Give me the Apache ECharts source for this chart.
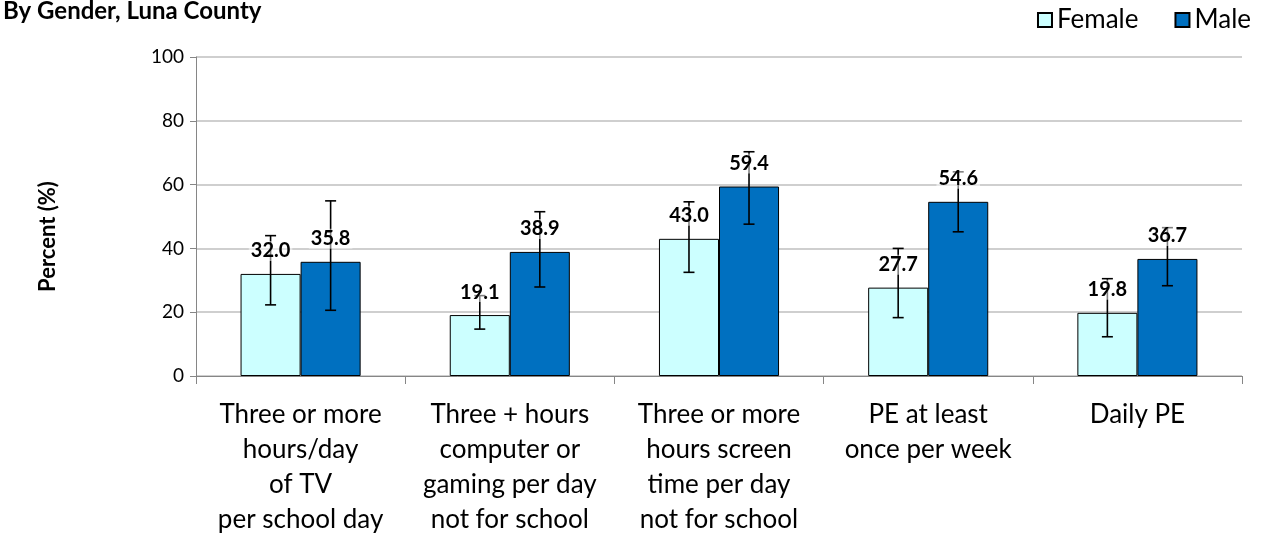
<!DOCTYPE html>
<html><head><meta charset="utf-8">
<script src="https://cdn.jsdelivr.net/npm/echarts@6/dist/echarts.min.js"></script>
<style>html,body{margin:0;padding:0;background:#fff}#c{width:1264px;height:535px}</style>
</head><body><div id="c"></div>
<script>
const categories = ["Three or more\nhours/day\nof TV\nper school day","Three + hours\ncomputer or\ngaming per day\nnot for school","Three or more\nhours screen\ntime per day\nnot for school","PE at least\nonce per week","Daily PE"];
const female = [32.0, 19.1, 43.0, 27.7, 19.8];
const male = [35.8, 38.9, 59.4, 54.6, 36.7];
const femaleLow = [22.3, 14.7, 32.5, 18.3, 12.3];
const femaleHigh = [44.0, 25.2, 54.6, 40.0, 30.5];
const maleLow = [20.6, 27.9, 47.6, 45.2, 28.3];
const maleHigh = [54.9, 51.5, 70.3, 64.0, 46.5];
const yTicks = [0, 20, 40, 60, 80, 100];

const FONT = 'Lato, "Open Sans", sans-serif';
const GAP = 0.426;
const chart = echarts.init(document.getElementById('c'));

// error bars + value labels (labels drawn over the error bars with a translucent backing)
function errSeries(values, low, high, side) {
  return {
    type: 'custom', z: 5,
    data: low.map((l, i) => [i, l, high[i], values[i]]),
    renderItem: function (params, api) {
      const i = api.value(0);
      const catW = api.size([1, 0])[0];
      const barW = catW * (1 - GAP) / 2;
      const p1 = api.coord([i, api.value(1)]);
      const p2 = api.coord([i, api.value(2)]);
      const pv = api.coord([i, api.value(3)]);
      const x = p1[0] + side * barW / 2;
      const cap = 5.5;
      const st = { stroke: '#000', lineWidth: 1.6 };
      return { type: 'group', children: [
        { type: 'line', shape: { x1: x, y1: p1[1], x2: x, y2: p2[1] }, style: st },
        { type: 'line', shape: { x1: x - cap, y1: p1[1], x2: x + cap, y2: p1[1] }, style: st },
        { type: 'line', shape: { x1: x - cap, y1: p2[1], x2: x + cap, y2: p2[1] }, style: st },
        { type: 'text', x: x, y: pv[1] - 13, z2: 10, style: {
            text: api.value(3).toFixed(1), align: 'center', verticalAlign: 'bottom',
            font: 'bold 20px ' + FONT, fill: '#000',
            backgroundColor: 'rgba(255,255,255,0.5)', padding: [0, 2] } }
      ]};
    }
  };
}

chart.setOption({
  animation: false,
  title: { text: 'By Gender, Luna County', left: -2, top: -6,
    textStyle: { fontFamily: FONT, fontWeight: 'bold', fontSize: 24, color: '#000' } },
  legend: { right: 8, top: 2, itemWidth: 14, itemHeight: 14, itemGap: 36,
    textStyle: { fontFamily: FONT, fontSize: 26, color: '#000' },
    data: [{ name: 'Female', icon: 'rect' }, { name: 'Male', icon: 'rect' }] },
  grid: { left: 196, right: 22, top: 57, bottom: 159, containLabel: false, outerBoundsMode: 'none' },
  xAxis: { type: 'category', data: categories,
    axisLine: { lineStyle: { color: '#868686', width: 1 } },
    axisTick: { show: true, length: 8, lineStyle: { color: '#868686' } },
    axisLabel: { fontFamily: FONT, fontSize: 26, color: '#000', lineHeight: 35, margin: 21, interval: 0 } },
  yAxis: { type: 'value', min: 0, max: 100, interval: 20,
    name: 'Percent (%)', nameLocation: 'middle', nameGap: 137, nameRotate: 90,
    nameTextStyle: { fontFamily: FONT, fontWeight: 'bold', fontSize: 22, color: '#000', padding: [0, 40, 0, 0] },
    axisLine: { show: true, lineStyle: { color: '#868686' } },
    axisTick: { show: true, length: 6, lineStyle: { color: '#868686' } },
    splitLine: { lineStyle: { color: '#BFBFBF', width: 1.5 } },
    axisLabel: { fontFamily: FONT, fontSize: 19, color: '#000', margin: 12,
      formatter: v => yTicks.includes(v) ? String(v) : '' } },
  series: [
    { name: 'Female', type: 'bar', data: female, barGap: '0%', barCategoryGap: (GAP * 100) + '%', z: 2,
      itemStyle: { color: '#CCFFFF', borderColor: '#000', borderWidth: 1 } },
    { name: 'Male', type: 'bar', data: male, z: 2,
      itemStyle: { color: '#0070C0', borderColor: '#000', borderWidth: 1 } },
    errSeries(female, femaleLow, femaleHigh, -1),
    errSeries(male, maleLow, maleHigh, 1)
  ]
});
</script></body></html>
